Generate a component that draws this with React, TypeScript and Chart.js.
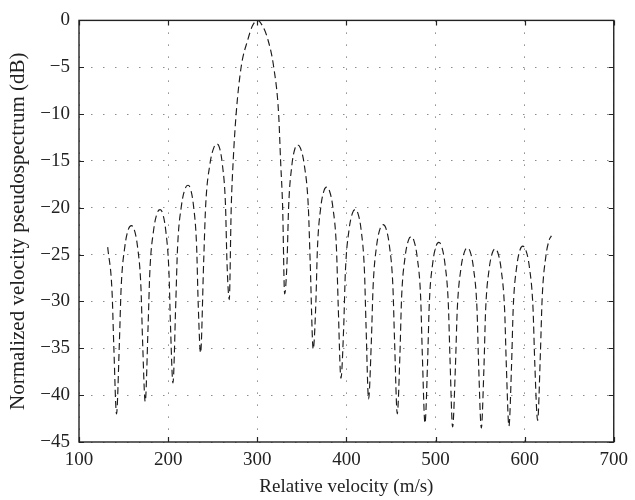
import React, { useEffect, useRef } from "react";
import { Chart, registerables } from "chart.js";

Chart.register(...registerables);

// Relative velocity (m/s)
const velocity = [
  132.2, 137.1, 139.1, 142.1,
  145.3, 147.3, 151.5, 155.6, 158.8, 161.7, 165.6, 169.5, 171.4, 174.3,
  177.5, 179.5, 183.7, 187.8, 191.0, 193.7, 197.3, 200.9, 202.7, 205.4,
  208.6, 210.6, 214.9, 219.1, 222.3, 225.0, 228.5, 232.0, 233.7, 236.4,
  239.9, 242.1, 246.8, 251.4, 254.9, 257.5, 260.9, 264.4, 266.0, 268.6,
  270.8, 273.0, 276.3, 281.9, 289.6, 294.5, 300.2, 306.0, 311.8, 318.5, 324.0, 326.2, 328.5, 330.7,
  333.4, 335.2, 338.8, 342.4, 345.1, 348.5, 352.9, 357.3, 359.4, 362.8,
  365.7, 367.5, 371.2, 375.0, 377.8, 380.9, 384.9, 388.9, 390.8, 393.9,
  397.0, 398.9, 402.9, 406.9, 410.0, 412.8, 416.6, 420.3, 422.1, 424.9,
  428.0, 430.0, 434.0, 438.1, 441.2, 444.2, 448.2, 452.2, 454.1, 457.1,
  460.1, 461.9, 465.8, 469.7, 472.6, 475.6, 479.5, 483.4, 485.2, 488.2,
  491.2, 493.0, 496.9, 500.8, 503.7, 506.6, 510.5, 514.4, 516.3, 519.2,
  522.4, 524.4, 528.5, 532.7, 535.8, 538.8, 542.7, 546.6, 548.4, 551.4,
  554.4, 556.2, 560.1, 564.0, 566.9, 569.8, 573.7, 577.6, 579.5, 582.4,
  585.4, 587.2, 591.1, 595.0, 597.9, 601.1, 605.3, 609.4, 611.4, 614.6,
  617.7, 619.7, 623.8, 627.9, 630.1,
];

// Normalized velocity pseudospectrum (dB)
const spectrumDb = [
  -24.2, -29.0, -34.9, -42.0,
  -34.4, -28.5, -24.1, -22.25, -21.9, -22.25, -24.1, -28.5, -34.4, -40.7,
  -32.7, -26.8, -22.4, -20.55, -20.2, -20.55, -22.4, -26.8, -32.7, -38.7,
  -30.1, -24.2, -19.8, -17.95, -17.6, -17.95, -19.8, -24.2, -30.1, -35.5,
  -25.7, -19.8, -15.4, -13.55, -13.2, -13.55, -15.4, -19.8, -25.7, -29.8,
  -20, -15, -10, -5, -2, -0.6, 0, -0.6, -2, -5, -10, -15, -20, -29.2,
  -25.8, -19.9, -15.5, -13.65, -13.3, -13.65, -15.5, -19.9, -25.8, -35.1,
  -30.3, -24.4, -20.0, -18.15, -17.8, -18.15, -20.0, -24.4, -30.3, -38.2,
  -32.7, -26.8, -22.4, -20.55, -20.2, -20.55, -22.4, -26.8, -32.7, -40.4,
  -34.3, -28.4, -24.0, -22.15, -21.8, -22.15, -24.0, -28.4, -34.3, -42.0,
  -35.6, -29.7, -25.3, -23.45, -23.1, -23.45, -25.3, -29.7, -35.6, -43.0,
  -36.2, -30.3, -25.9, -24.05, -23.7, -24.05, -25.9, -30.3, -36.2, -43.4,
  -36.8, -30.9, -26.5, -24.65, -24.3, -24.65, -26.5, -30.9, -36.8, -43.5,
  -36.9, -31.0, -26.6, -24.75, -24.4, -24.75, -26.6, -31.0, -36.9, -43.3,
  -36.6, -30.7, -26.3, -24.45, -24.1, -24.45, -26.3, -30.7, -36.6, -42.7,
  -35.5, -29.6, -25.2, -23.35, -23.0,
];

const xTicks = [100, 200, 300, 400, 500, 600, 700];
const yTicks = [0, -5, -10, -15, -20, -25, -30, -35, -40, -45];

const xTitle = "Relative velocity (m/s)";
const yTitle = "Normalized velocity pseudospectrum (dB)";

const FONT = "'Liberation Serif', 'Times New Roman', serif";
const INK = "#222";

const frameTicks = {
  id: "frameTicks",
  afterDatasetsDraw(chart: any) {
    const { ctx, chartArea: a, scales } = chart;
    const xs = scales.x;
    const ys = scales.y;
    const len = 5;
    ctx.save();
    ctx.strokeStyle = INK;
    ctx.lineWidth = 1.2;
    ctx.setLineDash([]);
    ctx.beginPath();
    for (const v of xTicks) {
      const px = Math.round(xs.getPixelForValue(v)) + 0.5;
      ctx.moveTo(px, a.bottom);
      ctx.lineTo(px, a.bottom - len);
      ctx.moveTo(px, a.top);
      ctx.lineTo(px, a.top + len);
    }
    for (const v of yTicks) {
      const py = Math.round(ys.getPixelForValue(v)) + 0.5;
      ctx.moveTo(a.left, py);
      ctx.lineTo(a.left + len, py);
      ctx.moveTo(a.right, py);
      ctx.lineTo(a.right - len, py);
    }
    ctx.stroke();
    ctx.lineWidth = 1.4;
    ctx.strokeRect(a.left, a.top, a.right - a.left, a.bottom - a.top);
    ctx.restore();
  },
};

export default function App() {
  const ref = useRef<HTMLCanvasElement | null>(null);

  useEffect(() => {
    if (!ref.current) return;
    const n = Math.min(velocity.length, spectrumDb.length);
    const points = [];
    for (let i = 0; i < n; i++) points.push({ x: velocity[i], y: spectrumDb[i] });

    const chart = new Chart(ref.current, {
      type: "line",
      data: {
        datasets: [
          {
            data: points,
            borderColor: "#1c1c1c",
            borderWidth: 1.15,
            borderDash: [7, 4],
            pointRadius: 0,
            fill: false,
            cubicInterpolationMode: "monotone",
          },
        ],
      },
      options: {
        animation: false,
        responsive: false,
        events: [],
        layout: { padding: { left: 0, top: 15, right: 15, bottom: 0 } },
        plugins: {
          legend: { display: false },
          tooltip: { enabled: false },
        },
        scales: {
          x: {
            type: "linear",
            min: 100,
            max: 700,
            afterBuildTicks: (s: any) => {
              s.ticks = xTicks.map((v) => ({ value: v }));
            },
            afterFit: (s: any) => {
              s.height = 58;
            },
            grid: { color: "#8c8c8c", lineWidth: 1, drawTicks: false },
            border: { display: false, dash: [1.5, 10.5] },
            ticks: {
              padding: 7,
              color: INK,
              font: { family: FONT, size: 19 },
              maxRotation: 0,
              callback: (v: any) => String(v),
            },
            title: {
              display: true,
              text: xTitle,
              color: INK,
              font: { family: FONT, size: 19 },
              padding: { top: 0, bottom: 2 },
            },
          },
          y: {
            type: "linear",
            min: -45,
            max: 0,
            afterBuildTicks: (s: any) => {
              s.ticks = yTicks.slice().reverse().map((v) => ({ value: v }));
            },
            afterFit: (s: any) => {
              s.width = 79;
            },
            grid: { color: "#8c8c8c", lineWidth: 1, drawTicks: false },
            border: { display: false, dash: [1.5, 10.5] },
            ticks: {
              padding: 9,
              color: INK,
              font: { family: FONT, size: 19 },
              callback: (v: any) => String(v).replace("-", "\u2212"),
            },
            title: {
              display: true,
              text: yTitle,
              color: INK,
              font: { family: FONT, size: 21 },
              padding: { top: 6, bottom: 0 },
            },
          },
        },
      },
      plugins: [frameTicks],
    });
    return () => chart.destroy();
  }, []);

  return (
    <div style={{ position: "fixed", left: 0, top: 0, width: 635, height: 500, background: "#fff" }}>
      <canvas ref={ref} width={635} height={500} style={{ display: "block" }} />
    </div>
  );
}
